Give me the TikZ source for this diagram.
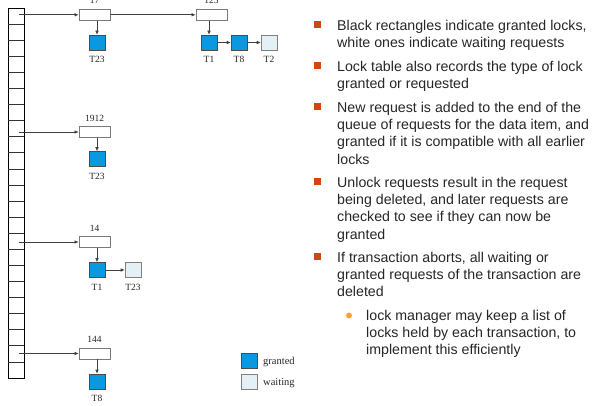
\documentclass[tikz,border=0pt]{standalone}
\usepackage{fontspec}
\setmainfont{Liberation Serif}
\newfontfamily\slidefont{Liberation Sans}
\usetikzlibrary{arrows.meta}
\definecolor{grantblue}{HTML}{0A98E0}
\definecolor{waitblue}{HTML}{E3F0F6}
\definecolor{bulletred}{HTML}{D2470F}
\definecolor{subdot}{HTML}{F7A142}
\definecolor{boxline}{HTML}{7A7A7A}
\begin{document}
\begin{tikzpicture}[x=1pt,y=-1pt,
  itembox/.style={draw=boxline, fill=white, minimum width=31pt, minimum height=11pt, inner sep=0pt, line width=0.7pt},
  granted/.style={draw=black!70, fill=grantblue, minimum width=16pt, minimum height=15pt, inner sep=0pt, line width=0.6pt},
  waiting/.style={draw=black!50, fill=waitblue, minimum width=16pt, minimum height=15pt, inner sep=0pt, line width=0.6pt},
  smalltext/.style={font=\fontsize{9.5}{10}\selectfont, inner sep=0pt, anchor=base, text=black!85},
  link/.style={draw=black!75, line width=0.6pt, -{Latex[length=4pt,width=3.5pt]}},
  bullettext/.style={font=\slidefont\fontsize{14.2}{17.3}\selectfont, align=left, anchor=north west, inner sep=0pt, text=black!85},
  bulletsq/.style={fill=bulletred, minimum size=7pt, inner sep=0pt},
  subbullet/.style={circle, fill=subdot, minimum size=6pt, inner sep=0pt}
]
\useasboundingbox (0,0) rectangle (593,406);

% lock table: a column of hash slots
\draw[line width=0.8pt] (8,8) rectangle (24,378);
\foreach \i in {1,...,22} \draw[line width=0.7pt, black!80] (8,8+\i*16.087) -- (24,8+\i*16.087);
\coordinate (s0) at (19,14.8);
\coordinate (s7) at (19,132);
\coordinate (s14) at (19,242);
\coordinate (s21) at (19,353.5);

% data item headers
\node[itembox] (b17)   at (94.5,14.8) {};
\node[itembox] (b123)  at (211.5,14.8) {};
\node[itembox] (b1912) at (94.5,132) {};
\node[itembox] (b14)   at (94.5,242) {};
\node[itembox] (b144)  at (94.5,353.5) {};
\foreach \b/\t in {b17/17, b123/123, b1912/1912, b14/14, b144/144}
  \node[smalltext] (\b-lab) at ([yshift=5pt]\b.north) {\t};

% requests
\node[granted] (t23a) at (97,42.5) {};
\node[granted] (t1a)  at (209,42.5) {};
\node[granted] (t8a)  at (239,42.5) {};
\node[waiting] (t2a)  at (269,42.5) {};
\node[granted] (t23b) at (97,159) {};
\node[granted] (t1c)  at (97,270) {};
\node[waiting] (t23c) at (133,270) {};
\node[granted] (t8d)  at (97,381.5) {};
\foreach \n/\t in {t23a/T23, t1a/T1, t8a/T8, t2a/T2, t23b/T23, t1c/T1, t23c/T23, t8d/T8}
  \node[smalltext] (\n-lab) at ([yshift=-12.5pt]\n.south) {\t};

% connectors
\draw[link] (s0) -- (b17.west);
\draw[link] (s7) -- (b1912.west);
\draw[link] (s14) -- (b14.west);
\draw[link] (s21) -- (b144.west);
\draw[link] (b17.east) -- (b123.west);
\draw[link] (b17.south -| t23a.north) -- (t23a.north);
\draw[link] (b123.south -| t1a.north) -- (t1a.north);
\draw[link] (t1a.east) -- (t8a.west);
\draw[link] (t8a.east) -- (t2a.west);
\draw[link] (b1912.south -| t23b.north) -- (t23b.north);
\draw[link] (b14.south -| t1c.north) -- (t1c.north);
\draw[link] (t1c.east) -- (t23c.west);
\draw[link] (b144.south -| t8d.north) -- (t8d.north);

% legend
\node[granted] (lg) at (249.5,361) {};
\node[waiting] (lw) at (249.5,381.5) {};
\node[font=\fontsize{10.5}{11}\selectfont, anchor=base west, inner sep=0pt, text=black!85] (lgt) at (263,364.5) {granted};
\node[font=\fontsize{10.5}{11}\selectfont, anchor=base west, inner sep=0pt, text=black!85] (lwt) at (263,385) {waiting};

% notes
\node[bulletsq] (q1) at (317.5,24.5) {};
\node[bullettext] (n1) at (337,19.8) {Black rectangles indicate granted locks,\\white ones indicate waiting requests};
\node[bulletsq] (q2) at (317.5,65.5) {};
\node[bullettext] (n2) at (337,60.8) {Lock table also records the type of lock\\granted or requested};
\node[bulletsq] (q3) at (317.5,106.5) {};
\node[bullettext] (n3) at (337,101.8) {New request is added to the end of the\\queue of requests for the data item, and\\granted if it is compatible with all earlier\\locks};
\node[bulletsq] (q4) at (317.5,181.5) {};
\node[bullettext] (n4) at (337,176.8) {Unlock requests result in the request\\being deleted, and later requests are\\checked to see if they can now be\\granted};
\node[bulletsq] (q5) at (317.5,256.5) {};
\node[bullettext] (n5) at (337,251.8) {If transaction aborts, all waiting or\\granted requests of the transaction are\\deleted};
\node[subbullet] (d1) at (349,315.5) {};
\node[bullettext] (n6) at (366,309.8) {lock manager may keep a list of\\locks held by each transaction, to\\implement this efficiently};
\end{tikzpicture}
\end{document}
